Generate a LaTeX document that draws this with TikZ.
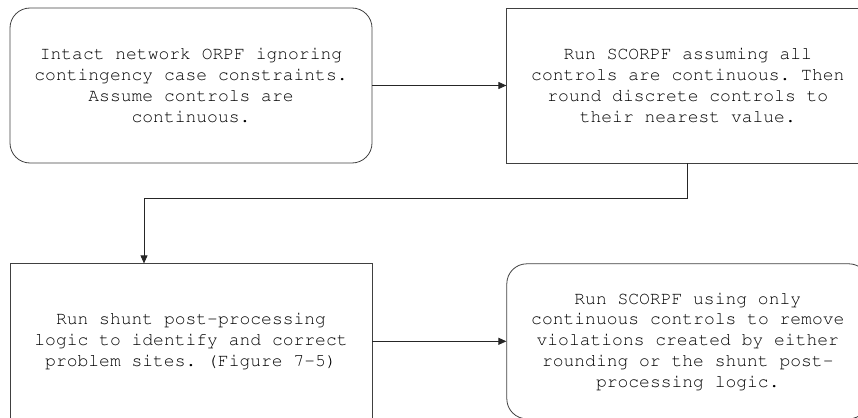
\documentclass[tikz,border=0pt]{standalone}
\usepackage[T1]{fontenc}
\usepackage{courier}
\usetikzlibrary{
    arrows.meta,
    positioning
}

\begin{document}
\begin{tikzpicture}[
    x=1pt, y=1pt,
    node distance=100pt and 134pt,
    stepbase/.style={draw=black!75, line width=0.8pt, minimum width=362pt, minimum height=155pt,
        align=center, text=black, font=\ttfamily\frenchspacing\fontsize{18pt}{20.8pt}\selectfont},
    roundbox/.style={stepbase, rectangle, rounded corners=20pt},
    sharpbox/.style={stepbase, rectangle},
    arrow/.style={-{Triangle[length=8pt, width=7pt]}, draw=black!85, line width=0.8pt}
]
\useasboundingbox (0,0) rectangle (858,-417);

\node[roundbox] (intact) at (191,-85.5) {Intact network ORPF ignoring\\contingency case constraints.\\Assume controls are\\continuous.};
\node[sharpbox, right=of intact] (scorpf) {Run SCORPF assuming all\\controls are continuous. Then\\round discrete controls to\\their nearest value.};
\node[sharpbox, below=of intact] (shunt) {Run shunt post-processing\\logic to identify and correct\\problem sites. (Figure 7-5)};
\node[roundbox, right=of shunt] (final) {Run SCORPF using only\\continuous controls to remove\\violations created by either\\rounding or the shunt post-\\processing logic.};

\draw[arrow] (intact) -- (scorpf);
\draw[arrow] (scorpf.south) -- ++(0,-35) -| ([xshift=-47pt]shunt.north);
\draw[arrow] (shunt) -- (final);
\end{tikzpicture}
\end{document}
